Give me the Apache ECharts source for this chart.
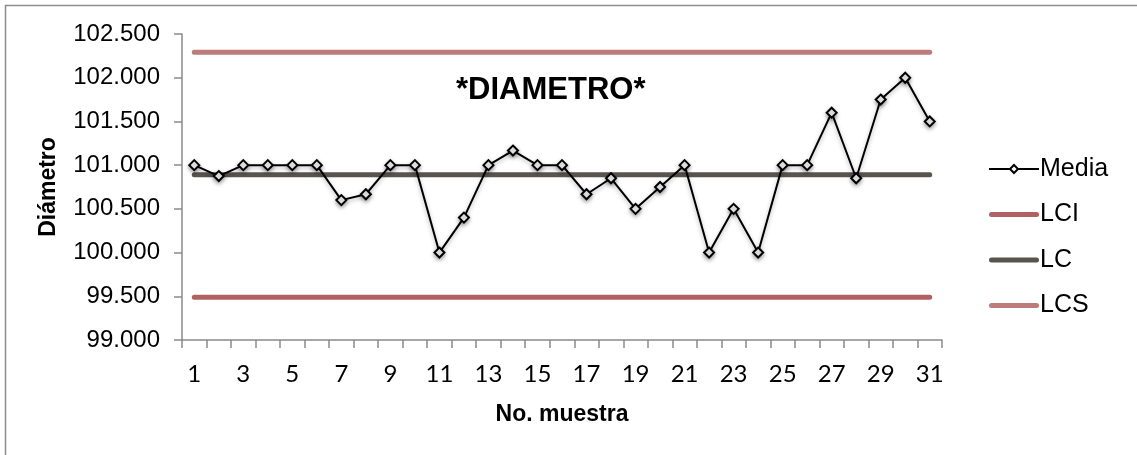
<!DOCTYPE html>
<html>
<head>
<meta charset="utf-8">
<script src="https://cdn.jsdelivr.net/npm/echarts@6/dist/echarts.min.js"></script>
<style>
  html, body { margin: 0; padding: 0; background: #fff; }
  #chart { width: 1137px; height: 455px; }
</style>
</head>
<body>
<div id="chart"></div>
<script>
// Sample numbers (No. muestra)
const categories = ['1','2','3','4','5','6','7','8','9','10','11','12','13','14','15','16',
  '17','18','19','20','21','22','23','24','25','26','27','28','29','30','31'];

// Sample means of the diameter
const media = [101, 100.875, 101, 101, 101, 101, 100.6, 100.667, 101, 101, 100, 100.4,
  101, 101.167, 101, 101, 100.667, 100.85, 100.5, 100.75, 101, 100, 100.5, 100,
  101, 101, 101.6, 100.85, 101.75, 102, 101.5];

// Control limits
const lci = 99.49;   // lower control limit
const lc = 100.89;   // center line
const lcs = 102.29;  // upper control limit

const yTicks = { min: 99, max: 102.5, step: 0.5 };

const constantLine = v => categories.map(() => v);

const FONT = '"Liberation Sans", Arial, sans-serif';

// thick rounded bar used as legend swatch for the limit lines
const BAR_ICON = 'path://M2.5,0 L47.5,0 A2.5,2.5 0 0 1 47.5,5 L2.5,5 A2.5,2.5 0 0 1 2.5,0 Z';

const chart = echarts.init(document.getElementById('chart'), null, { renderer: 'canvas' });

chart.setOption({
  backgroundColor: '#ffffff',
  animation: false,
  title: {
    text: '*DIAMETRO*',
    left: 451,
    top: 69,
    textStyle: { fontFamily: FONT, fontSize: 31, fontWeight: 'bold', color: '#000', lineHeight: 32 }
  },
  graphic: [{
    type: 'rect',
    shape: { x: 5.5, y: 5.5, width: 1140, height: 460 },
    style: { fill: null, stroke: '#8c8c8c', lineWidth: 1.5 },
    silent: true
  }],
  grid: { left: 182, right: 195, top: 34, bottom: 115 },
  legend: {
    orient: 'vertical',
    left: 983,
    top: 151,
    itemWidth: 50,
    itemHeight: 10,
    itemGap: 19.5,
    symbolKeepAspect: true,
    textStyle: { fontFamily: FONT, fontSize: 25, color: '#000', lineHeight: 26, padding: [0, 0, 0, -4] },
    data: [
      { name: 'Media' },
      { name: 'LCI', icon: BAR_ICON },
      { name: 'LC', icon: BAR_ICON },
      { name: 'LCS', icon: BAR_ICON }
    ]
  },
  xAxis: {
    type: 'category',
    data: categories,
    boundaryGap: true,
    name: 'No. muestra',
    nameLocation: 'middle',
    nameGap: 63,
    nameTextStyle: { fontFamily: FONT, fontSize: 23, fontWeight: 'bold', color: '#000' },
    axisLine: { lineStyle: { color: '#8a8a8a', width: 1.5 } },
    axisTick: { show: true, interval: 0, length: 8, lineStyle: { color: '#8a8a8a', width: 1.5 } },
    axisLabel: { interval: 1, margin: 22, fontFamily: 'Lato, "Open Sans", sans-serif', fontSize: 24, color: '#000' },
    splitLine: { show: false }
  },
  yAxis: {
    type: 'value',
    min: yTicks.min,
    max: yTicks.max,
    interval: yTicks.step,
    name: 'Diámetro',
    nameLocation: 'middle',
    nameRotate: 90,
    nameGap: 122,
    nameTextStyle: { fontFamily: FONT, fontSize: 23, fontWeight: 'bold', color: '#000' },
    axisLine: { show: true, lineStyle: { color: '#8a8a8a', width: 1.5 } },
    axisTick: { show: true, length: 8, lineStyle: { color: '#8a8a8a', width: 1.5 } },
    axisLabel: {
      margin: 22,
      fontFamily: FONT, fontSize: 24, color: '#000',
      formatter: v => v.toFixed(3)
    },
    splitLine: { show: false }
  },
  series: [
    {
      name: 'Media',
      type: 'line',
      data: media,
      z: 5,
      symbol: 'diamond',
      symbolSize: 10,
      lineStyle: { color: '#000', width: 2, shadowColor: 'rgba(0,0,0,0.3)', shadowBlur: 4, shadowOffsetY: 2 },
      itemStyle: { color: '#fff', borderColor: '#000', borderWidth: 2, shadowColor: 'rgba(0,0,0,0.35)', shadowBlur: 4, shadowOffsetY: 2 }
    },
    {
      name: 'LCI',
      type: 'line',
      data: constantLine(lci),
      symbol: 'none',
      z: 2,
      lineStyle: { color: '#b06260', width: 5, cap: 'round' },
      itemStyle: { color: '#b06260' }
    },
    {
      name: 'LC',
      type: 'line',
      data: constantLine(lc),
      symbol: 'none',
      z: 2,
      lineStyle: { color: '#58554f', width: 5, cap: 'round' },
      itemStyle: { color: '#58554f' }
    },
    {
      name: 'LCS',
      type: 'line',
      data: constantLine(lcs),
      symbol: 'none',
      z: 2,
      lineStyle: { color: '#bd7b7a', width: 5, cap: 'round' },
      itemStyle: { color: '#bd7b7a' }
    }
  ]
});
</script>
</body>
</html>
